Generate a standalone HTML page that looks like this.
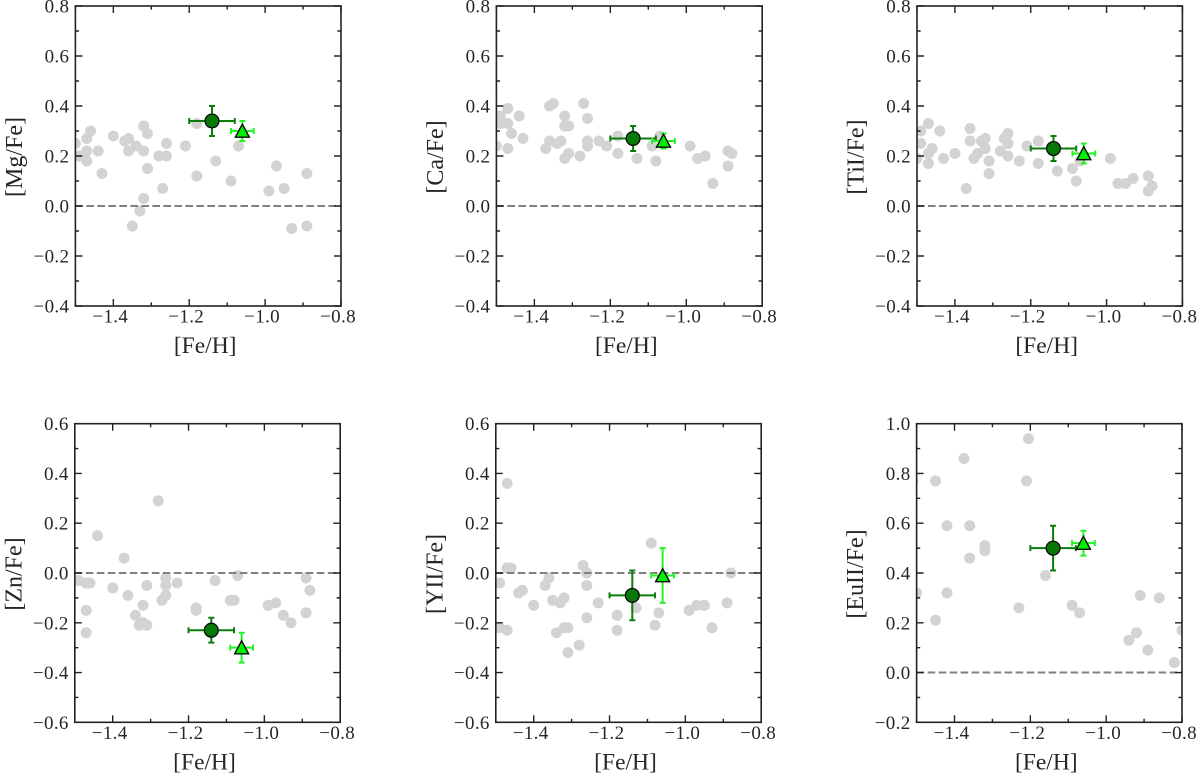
<!DOCTYPE html>
<html lang="en">
<head>
<meta charset="utf-8">
<title>Abundance ratios vs metallicity</title>
<style>
html,body{margin:0;padding:0;background:#fff;}
#figure{display:block;width:1200px;height:776px;background:#fff;}
text{font-family:"Liberation Serif",serif;fill:#262626;}
</style>
</head>
<body>
<svg id="figure" xmlns="http://www.w3.org/2000/svg" width="1200" height="776" viewBox="0 0 1200 776"></svg>
<script>
// ---- Data ----
var xTicks = [-1.4, -1.2, -1.0, -0.8];
var xMinorTicks = [-1.5, -1.3, -1.1, -0.9];
var xTickLabels = ['\u22121.4', '\u22121.2', '\u22121.0', '\u22120.8'];

var mgYTicks = [-0.4, -0.2, 0.0, 0.2, 0.4, 0.6, 0.8];
var znYTicks = [-0.6, -0.4, -0.2, 0.0, 0.2, 0.4, 0.6];
var euYTicks = [-0.2, 0.0, 0.2, 0.4, 0.6, 0.8, 1.0];

var mgFeh = [-1.5,-1.49,-1.47,-1.46,-1.47,-1.47,-1.44,-1.43,-1.4,-1.37,-1.36,-1.36,-1.34,-1.32,-1.31,-1.32,-1.31,-1.32,-1.33,-1.35,-1.28,-1.26,-1.26,-1.27,-1.21,-1.18,-1.18,-1.13,-1.09,-1.07,-0.99,-0.97,-0.95,-0.93,-0.89,-0.89];
var mgVals = [0.25,0.2,0.27,0.3,0.22,0.18,0.22,0.13,0.28,0.26,0.27,0.22,0.24,0.32,0.29,0.22,0.15,0.03,-0.02,-0.08,0.2,0.25,0.2,0.07,0.24,0.33,0.12,0.18,0.1,0.24,0.06,0.16,0.07,-0.09,-0.08,0.13];

var caFeh = [-1.5,-1.49,-1.49,-1.47,-1.47,-1.47,-1.46,-1.44,-1.43,-1.37,-1.36,-1.36,-1.35,-1.34,-1.33,-1.32,-1.32,-1.31,-1.32,-1.31,-1.28,-1.27,-1.26,-1.26,-1.26,-1.23,-1.21,-1.18,-1.18,-1.13,-1.09,-1.07,-1.08,-0.99,-0.97,-0.95,-0.93,-0.89,-0.89,-0.88];
var caVals = [0.24,0.36,0.33,0.39,0.33,0.23,0.29,0.36,0.27,0.23,0.26,0.4,0.41,0.25,0.26,0.36,0.32,0.32,0.19,0.21,0.2,0.41,0.35,0.26,0.24,0.26,0.24,0.28,0.21,0.19,0.24,0.28,0.18,0.24,0.19,0.2,0.09,0.22,0.16,0.21];

var tiFeh = [-1.5,-1.49,-1.49,-1.47,-1.47,-1.46,-1.47,-1.44,-1.43,-1.4,-1.37,-1.36,-1.36,-1.35,-1.34,-1.33,-1.32,-1.32,-1.31,-1.31,-1.28,-1.27,-1.26,-1.26,-1.26,-1.23,-1.21,-1.18,-1.18,-1.13,-1.09,-1.08,-1.07,-0.99,-0.97,-0.95,-0.93,-0.89,-0.89,-0.88];
var tiVals = [0.19,0.3,0.25,0.33,0.17,0.23,0.21,0.3,0.19,0.21,0.07,0.31,0.26,0.19,0.21,0.26,0.27,0.23,0.18,0.13,0.22,0.27,0.29,0.25,0.2,0.18,0.24,0.26,0.17,0.14,0.15,0.1,0.18,0.19,0.09,0.09,0.11,0.12,0.06,0.08];

var znFeh = [-1.49,-1.47,-1.46,-1.47,-1.47,-1.44,-1.4,-1.37,-1.36,-1.34,-1.33,-1.32,-1.31,-1.32,-1.31,-1.28,-1.26,-1.26,-1.26,-1.27,-1.23,-1.18,-1.18,-1.13,-1.09,-1.08,-1.07,-0.99,-0.97,-0.95,-0.93,-0.89,-0.89,-0.88];
var znVals = [-0.03,-0.04,-0.04,-0.15,-0.24,0.15,-0.06,0.06,-0.09,-0.17,-0.21,-0.2,-0.21,-0.13,-0.05,0.29,-0.02,-0.05,-0.09,-0.11,-0.04,-0.14,-0.15,-0.03,-0.11,-0.11,-0.01,-0.13,-0.12,-0.17,-0.2,-0.16,-0.02,-0.07];

var yFeh = [-1.49,-1.49,-1.47,-1.47,-1.46,-1.47,-1.44,-1.43,-1.4,-1.37,-1.36,-1.35,-1.34,-1.33,-1.32,-1.32,-1.31,-1.31,-1.28,-1.27,-1.26,-1.26,-1.26,-1.23,-1.18,-1.18,-1.13,-1.09,-1.08,-1.07,-0.99,-0.97,-0.95,-0.93,-0.89,-0.88];
var yVals = [-0.04,-0.22,-0.23,0.02,0.02,0.36,-0.08,-0.07,-0.13,-0.05,-0.02,-0.11,-0.24,-0.12,-0.1,-0.22,-0.22,-0.32,-0.29,0.03,0,-0.05,-0.18,-0.12,-0.17,-0.23,-0.14,0.12,-0.21,-0.16,-0.15,-0.13,-0.13,-0.22,-0.12,0];

var euFeh = [-1.5,-1.51,-1.45,-1.45,-1.42,-1.42,-1.375,-1.36,-1.36,-1.32,-1.32,-1.23,-1.21,-1.205,-1.16,-1.09,-1.07,-0.94,-0.92,-0.91,-0.89,-0.86,-0.82,-0.8];
var euVals = [0.32,0.77,0.77,0.21,0.59,0.32,0.86,0.59,0.46,0.51,0.49,0.26,0.77,0.94,0.39,0.27,0.24,0.13,0.16,0.31,0.09,0.3,0.04,0.17];

var circleFeh = [-1.14];
var circleFehErr = [0.06];
var triangleFeh = [-1.06];
var triangleFehErr = [0.03];
var circleVals = [0.34, 0.27, 0.23, -0.23, -0.09, 0.50];
var circleErrs = [0.06, 0.05, 0.05, 0.05, 0.10, 0.09];
var triangleVals = [0.30, 0.26, 0.21, -0.30, -0.01, 0.52];
var triangleErrs = [0.04, 0.03, 0.04, 0.06, 0.11, 0.05];

var panelLabels = ['[Mg/Fe]', '[Ca/Fe]', '[TiI/Fe]', '[Zn/Fe]', '[YII/Fe]', '[EuII/Fe]'];
var panelFeh = [mgFeh, caFeh, tiFeh, znFeh, yFeh, euFeh];
var panelVals = [mgVals, caVals, tiVals, znVals, yVals, euVals];
var panelYTicks = [mgYTicks, mgYTicks, mgYTicks, znYTicks, znYTicks, euYTicks];

// ---- Layout ----
var frames = [
  {l:75.4, r:341, t:6, b:306, ymin:-0.4, ymax:0.8},
  {l:496.4, r:762.2, t:6, b:306, ymin:-0.4, ymax:0.8},
  {l:917, r:1182.4, t:6, b:306, ymin:-0.4, ymax:0.8},
  {l:74.8, r:340.2, t:423.7, b:722.3, ymin:-0.6, ymax:0.6},
  {l:495.8, r:761.2, t:423.7, b:722.3, ymin:-0.6, ymax:0.6},
  {l:916.6, r:1182, t:423.7, b:722.3, ymin:-0.2, ymax:1.0}
];
var XMIN = -1.5, XMAX = -0.8;
var NS = 'http://www.w3.org/2000/svg';
var svg = document.getElementById('figure');

function mk(tag, attrs, parent) {
  var el = document.createElementNS(NS, tag);
  for (var k in attrs) { el.setAttribute(k, attrs[k]); }
  parent.appendChild(el);
  return el;
}

frames.forEach(function (f, i) {
  function sx(v) { return f.l + (v - XMIN) / (XMAX - XMIN) * (f.r - f.l); }
  function sy(v) { return f.b - (v - f.ymin) / (f.ymax - f.ymin) * (f.b - f.t); }

  var g = mk('g', {}, svg);
  
  

  var clipId = 'clip' + i;
  var defs = mk('defs', {}, g);
  var cp = mk('clipPath', {id: clipId}, defs);
  mk('rect', {x: f.l, y: f.t, width: f.r - f.l, height: f.b - f.t}, cp);

  var plot = mk('g', {'clip-path': 'url(#' + clipId + ')'}, g);
  
  

  // field stars
  panelFeh[i].forEach(function (x, j) {
    var c = mk('circle', {cx: sx(x), cy: sy(panelVals[i][j]), r: 5.5, fill: '#d3d3d3'}, plot);
    
    
  });

  // zero reference line
  var zero = mk('line', {x1: f.l, x2: f.r, y1: sy(0), y2: sy(0), stroke: '#808080', 'stroke-width': 2, 'stroke-dasharray': '7.6 3.4'}, plot);
  
  

  function errorBars(parent, x, xe, y, ye, color, sw) {
    var cap = 3;
    var d = 'M' + sx(x - xe) + ' ' + sy(y) + 'H' + sx(x + xe) +
            'M' + sx(x - xe) + ' ' + (sy(y) - cap) + 'V' + (sy(y) + cap) +
            'M' + sx(x + xe) + ' ' + (sy(y) - cap) + 'V' + (sy(y) + cap) +
            'M' + sx(x) + ' ' + sy(y + ye) + 'V' + sy(y - ye) +
            'M' + (sx(x) - cap) + ' ' + sy(y + ye) + 'H' + (sx(x) + cap) +
            'M' + (sx(x) - cap) + ' ' + sy(y - ye) + 'H' + (sx(x) + cap);
    return mk('path', {d: d, stroke: color, 'stroke-width': sw, fill: 'none'}, parent);
  }

  // circle cluster marker
  var ce = errorBars(plot, circleFeh[0], circleFehErr[0], circleVals[i], circleErrs[i], '#0a7d0a', 2);
  
  

  // triangle cluster marker
  var te = errorBars(plot, triangleFeh[0], triangleFehErr[0], triangleVals[i], triangleErrs[i], '#22f522', 2);
  
  

  var cm = mk('circle', {cx: sx(circleFeh[0]), cy: sy(circleVals[i]), r: 6.9, fill: '#067a06', stroke: '#0a0a0a', 'stroke-width': 1.3}, plot);
  
  

  var tx = sx(triangleFeh[0]), ty = sy(triangleVals[i]);
  var tm = mk('polygon', {points: tx + ',' + (ty - 6.8) + ' ' + (tx + 7) + ',' + (ty + 6.2) + ' ' + (tx - 7) + ',' + (ty + 6.2), fill: '#00f000', stroke: '#0a0a0a', 'stroke-width': 1.4}, plot);
  
  

  // spines
  var frame = mk('rect', {x: f.l, y: f.t, width: f.r - f.l, height: f.b - f.t, fill: 'none', stroke: '#222', 'stroke-width': 1.6}, g);
  
  

  // ticks
  var d = '';
  xTicks.forEach(function (v) { d += 'M' + sx(v) + ' ' + f.b + 'v-7M' + sx(v) + ' ' + f.t + 'v7'; });
  xMinorTicks.forEach(function (v) { d += 'M' + sx(v) + ' ' + f.b + 'v-3.6M' + sx(v) + ' ' + f.t + 'v3.6'; });
  var yt = panelYTicks[i];
  yt.forEach(function (v, k) {
    d += 'M' + f.l + ' ' + sy(v) + 'h7M' + f.r + ' ' + sy(v) + 'h-7';
    if (k < yt.length - 1) {
      var m = (v + yt[k + 1]) / 2;
      d += 'M' + f.l + ' ' + sy(m) + 'h3.6M' + f.r + ' ' + sy(m) + 'h-3.6';
    }
  });
  var ticks = mk('path', {d: d, stroke: '#222', 'stroke-width': 1.4, fill: 'none'}, g);
  
  

  // x tick labels
  xTicks.forEach(function (v, k) {
    var t = mk('text', {x: sx(v) - 3, y: f.b + 16.5, 'text-anchor': 'middle', 'font-size': 19, 'letter-spacing': 0.35}, g);
    t.textContent = xTickLabels[k];
    
    
  });

  // y tick labels
  yt.forEach(function (v) {
    var t = mk('text', {x: f.l - 6, y: sy(v) + 6.5, 'text-anchor': 'end', 'font-size': 19, 'letter-spacing': 0.35}, g);
    t.textContent = (v < 0 ? '\u2212' : '') + Math.abs(v).toFixed(1);
    
    
  });

  // axis titles
  var xl = mk('text', {x: (f.l + f.r) / 2 - 3, y: f.b + 47, 'text-anchor': 'middle', 'font-size': 23.5}, g);
  xl.textContent = '[Fe/H]';
  
  

  var yx = f.l - 53.5, yy = (f.t + f.b) / 2 + 1;
  var yl = mk('text', {x: yx, y: yy, 'text-anchor': 'middle', 'font-size': 24, transform: 'rotate(-90 ' + yx + ' ' + yy + ')'}, g);
  yl.textContent = panelLabels[i];
  
  
});
</script>
</body>
</html>
